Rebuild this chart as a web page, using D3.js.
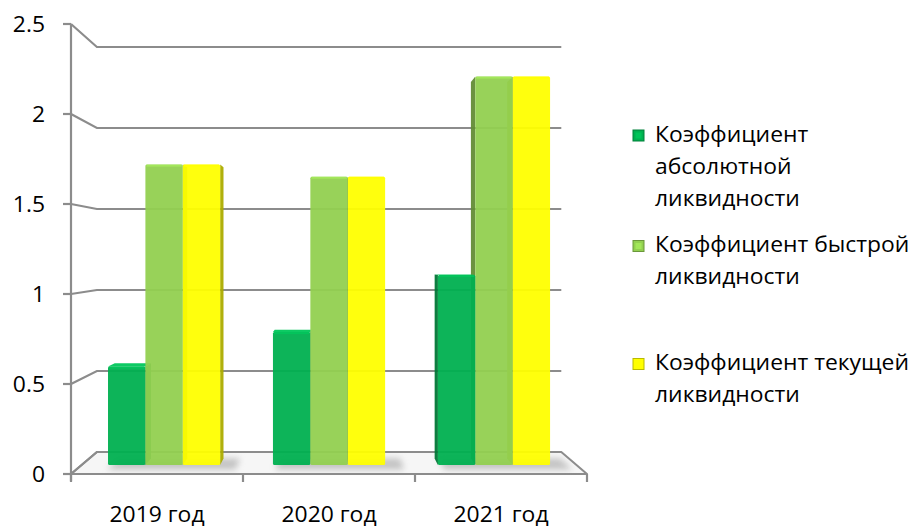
<!DOCTYPE html>
<html>
<head>
<meta charset="utf-8">
<script src="https://cdn.jsdelivr.net/npm/d3@7"></script>
<style>
  body { margin: 0; background: #ffffff; }
  svg { display: block; }
  text { font-family: "Open Sans", Lato, sans-serif; fill: #000; }
</style>
</head>
<body>
<svg id="chart" width="913" height="528"></svg>
<script>
// Liquidity ratios by year
const years = ["2019 год", "2020 год", "2021 год"];
const seriesNames = [
  "Коэффициент абсолютной ликвидности",
  "Коэффициент быстрой ликвидности",
  "Коэффициент текущей ликвидности"
];
const absoluteRatio = [0.57, 0.77, 1.10];
const quickRatio    = [1.74, 1.67, 2.25];
const currentRatio  = [1.74, 1.67, 2.25];
const yTicks = [0, 0.5, 1, 1.5, 2, 2.5];
const yTickLabels = ["0", "0.5", "1", "1.5", "2", "2.5"];
const legendLines = [
  ["Коэффициент", "абсолютной", "ликвидности"],
  ["Коэффициент быстрой", "ликвидности"],
  ["Коэффициент текущей", "ликвидности"]
];
const colors = ["#00b050", "#92d050", "#ffff00"];

const seriesValues = [absoluteRatio, quickRatio, currentRatio];

const svg = d3.select("#chart");

// Front plane of the 3D box
const left = 71, right = 587, floorY = 474, topY = 24;
const y = d3.scaleLinear().domain([0, 2.5]).range([floorY, topY]);
const xCat = d3.scaleBand().domain(years).range([left, right]);
const xGroup = d3.scaleBand().domain(years).range([left, right])
  .paddingInner(0.32).paddingOuter(0.16);
const xSeries = d3.scaleBand().domain(d3.range(seriesNames.length)).range([0, xGroup.bandwidth()]);

// Simple perspective: points shrink toward a vanishing point as depth grows (0 = front, 1 = back wall)
const vp = { x: 330, y: 254 };
const shrink = 0.1;
function P(X, Y, d) {
  const s = 1 - shrink * d;
  return [vp.x + (X - vp.x) * s, vp.y + (Y - vp.y) * s];
}
const line = d3.line();
const poly = pts => line(pts) + "Z";

const defs = svg.append("defs");
defs.append("filter").attr("id", "soft").attr("x", "-20%").attr("y", "-50%").attr("width", "140%").attr("height", "200%")
  .append("feGaussianBlur").attr("stdDeviation", 3);

const gridColor = "#8c8c8c";
const fontSize = 21;
const stretch = 1.09; // slightly wide lettering
const placeText = (sel, xf, yf) => sel.attr("transform", (d, i) => `translate(${xf(d, i)},${yf(d, i)}) scale(${stretch},1)`);

// Floor
svg.append("path")
  .attr("d", poly([P(left, floorY, 0), P(right, floorY, 0), P(right, floorY, 1), P(left, floorY, 1)]))
  .attr("fill", "#f6f6f6")
  .attr("stroke", gridColor).attr("stroke-width", 2).attr("stroke-linejoin", "round");

// Gridlines: left wall diagonal + back wall horizontal
svg.append("g").selectAll("path").data(yTicks).join("path")
  .attr("d", v => line([P(left, y(v), 0), P(left, y(v), 1), P(right, y(v), 1)]))
  .attr("fill", "none").attr("stroke", gridColor).attr("stroke-width", 2.2);

// Vertical axis with ticks
svg.append("line").attr("x1", left).attr("x2", left).attr("y1", y(2.5)).attr("y2", floorY + 7)
  .attr("stroke", gridColor).attr("stroke-width", 2.2);
svg.append("g").selectAll("line").data(yTicks).join("line")
  .attr("x1", left - 8).attr("x2", left).attr("y1", v => y(v)).attr("y2", v => y(v))
  .attr("stroke", gridColor).attr("stroke-width", 2.2);
svg.append("g").selectAll("text").data(yTicks).join("text")
  .call(placeText, () => 45, v => y(v))
  .attr("dy", "0.36em")
  .attr("text-anchor", "end").attr("font-size", fontSize)
  .text((v, i) => yTickLabels[i]);

// Horizontal axis with ticks at category boundaries
svg.append("line").attr("x1", left).attr("x2", right).attr("y1", floorY).attr("y2", floorY)
  .attr("stroke", gridColor).attr("stroke-width", 2.2);
const boundaries = years.map(c => xCat(c)).concat([xCat.range()[1]]);
svg.append("g").selectAll("line").data(boundaries).join("line")
  .attr("x1", d => d).attr("x2", d => d).attr("y1", floorY).attr("y2", floorY + 8)
  .attr("stroke", gridColor).attr("stroke-width", 2.2);
svg.append("g").selectAll("text").data(years).join("text")
  .call(placeText, c => xCat(c) + xCat.bandwidth() / 2, () => 522)
  .attr("text-anchor", "middle").attr("font-size", fontSize)
  .text(c => c);

// Bars sit between these depths
const dFront = 0.41, dBack = 0.70;

// Floor shadows behind each cluster
svg.append("g").selectAll("path").data(years).join("path")
  .attr("d", c => {
    const x0 = xGroup(c) + 4, x1 = xGroup(c) + xGroup.bandwidth() + 18;
    return poly([P(x0, floorY, 0.2), P(x1, floorY, 0.2), P(x1, floorY, dBack), P(x0, floorY, dBack)]);
  })
  .attr("fill", "#9a9a9a").attr("opacity", 0.55).attr("filter", "url(#soft)");

// Build bar records
const bars = [];
years.forEach((c, i) => {
  seriesValues.forEach((vals, j) => {
    const X0 = xGroup(c) + xSeries(j), X1 = X0 + xSeries.bandwidth();
    const center = P((X0 + X1) / 2, floorY, dFront)[0];
    bars.push({ c, j, v: vals[i], X0, X1, center });
  });
});
// Farther from the viewer's axis first so nearer bars cover hidden side faces
bars.sort((a, b) => Math.abs(b.center - vp.x) - Math.abs(a.center - vp.x));

const barG = svg.append("g");
bars.forEach(b => {
  const col = d3.color(colors[b.j]);
  const Y0 = y(0), Y1 = y(b.v);
  const g = barG.append("g").attr("fill-opacity", 0.95);
  // side face toward the vanishing point
  const sx = b.center > vp.x ? b.X0 : b.X1;
  g.append("path")
    .attr("d", poly([P(sx, Y1, dFront), P(sx, Y1, dBack), P(sx, Y0, dBack), P(sx, Y0, dFront)]))
    .attr("fill", col.darker(1.1));
  // top face when below the horizon
  if (Y1 > vp.y) {
    g.append("path")
      .attr("d", poly([P(b.X0, Y1, dFront), P(b.X1, Y1, dFront), P(b.X1, Y1, dBack), P(b.X0, Y1, dBack)]))
      .attr("fill", col.brighter(0.35));
  }
  // front face
  const f0 = P(b.X0, Y1, dFront), f1 = P(b.X1, Y0, dFront);
  g.append("rect")
    .attr("x", f0[0]).attr("y", f0[1])
    .attr("width", f1[0] - f0[0]).attr("height", f1[1] - f0[1])
    .attr("rx", 1.5)
    .attr("fill", col);
  // thin bevel highlight along the top edge
  g.append("rect")
    .attr("x", f0[0] + 1).attr("y", f0[1])
    .attr("width", f1[0] - f0[0] - 2).attr("height", 2)
    .attr("fill", col.brighter(0.4)).attr("fill-opacity", 0.7);
});

// Legend
const legendX = 633;
const legendEntries = [
  { marker: 135.5, baselines: [141.5, 173.5, 205.5] },
  { marker: 246, baselines: [252, 284] },
  { marker: 364, baselines: [370, 402] }
];
const lg = svg.append("g");
legendEntries.forEach((e, i) => {
  const col = d3.color(colors[i]);
  lg.append("rect").attr("x", legendX).attr("y", e.marker - 5.5).attr("width", 11).attr("height", 11)
    .attr("fill", col).attr("stroke", col.darker(0.9)).attr("stroke-width", 1);
  lg.append("rect").attr("x", legendX + 2.5).attr("y", e.marker - 3).attr("width", 6).attr("height", 6)
    .attr("fill", col.brighter(0.3));
  lg.selectAll(null).data(legendLines[i]).join("text")
    .call(placeText, () => 655, (t, k) => e.baselines[k])
    .attr("font-size", fontSize)
    .text(t => t);
});
</script>
</body>
</html>
